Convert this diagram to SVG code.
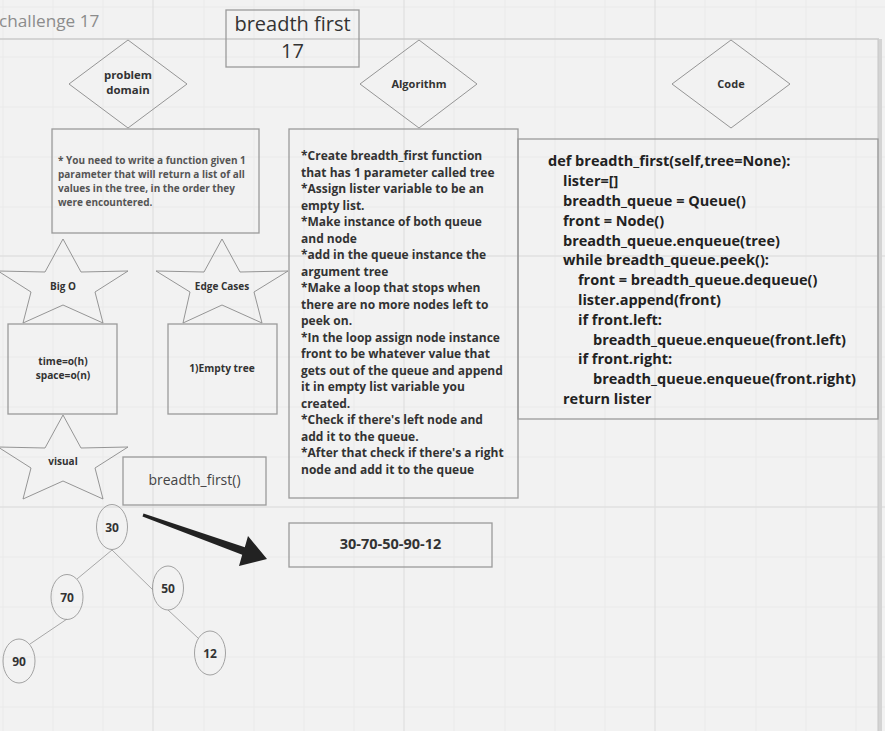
<svg xmlns="http://www.w3.org/2000/svg" width="885" height="731" viewBox="0 0 885 731">
<defs>
<style>
.minor{stroke:#eaeaea;stroke-width:1}
.major{stroke:#e0e0e0;stroke-width:1.3}
.shape{fill:none;stroke:#8a8a8a;stroke-width:0.9}
.box{fill:none;stroke:#9a9a9a;stroke-width:1.3}
.b{font-family:"Open Sans","DejaVu Sans",sans-serif;font-weight:bold;fill:#333}
.n{font-family:"Open Sans","DejaVu Sans",sans-serif;fill:#333}
.edge{stroke:#a8a8a8;stroke-width:1;fill:none}
.ell{fill:none;stroke:#999;stroke-width:0.9}
</style>
</defs>
<rect x="0" y="0" width="885" height="731" fill="#f2f2f2"/>
<g id="grid">
<g class="minor">
<line x1="3" y1="0" x2="3" y2="731"/><line x1="53" y1="0" x2="53" y2="731"/><line x1="103" y1="0" x2="103" y2="731"/><line x1="204" y1="0" x2="204" y2="731"/><line x1="254" y1="0" x2="254" y2="731"/><line x1="304" y1="0" x2="304" y2="731"/><line x1="354" y1="0" x2="354" y2="731"/><line x1="454" y1="0" x2="454" y2="731"/><line x1="505" y1="0" x2="505" y2="731"/><line x1="555" y1="0" x2="555" y2="731"/><line x1="605" y1="0" x2="605" y2="731"/><line x1="705" y1="0" x2="705" y2="731"/><line x1="756" y1="0" x2="756" y2="731"/><line x1="806" y1="0" x2="806" y2="731"/><line x1="856" y1="0" x2="856" y2="731"/>
<line x1="0" y1="7" x2="885" y2="7"/><line x1="0" y1="57" x2="885" y2="57"/><line x1="0" y1="107" x2="885" y2="107"/><line x1="0" y1="157" x2="885" y2="157"/><line x1="0" y1="207" x2="885" y2="207"/><line x1="0" y1="307" x2="885" y2="307"/><line x1="0" y1="357" x2="885" y2="357"/><line x1="0" y1="407" x2="885" y2="407"/><line x1="0" y1="457" x2="885" y2="457"/><line x1="0" y1="557" x2="885" y2="557"/><line x1="0" y1="607" x2="885" y2="607"/><line x1="0" y1="657" x2="885" y2="657"/><line x1="0" y1="707" x2="885" y2="707"/>
</g>
<g class="major">
<line x1="153" y1="0" x2="153" y2="731"/><line x1="404" y1="0" x2="404" y2="731"/><line x1="655" y1="0" x2="655" y2="731"/>
<line x1="0" y1="256" x2="885" y2="256"/><line x1="0" y1="507" x2="885" y2="507"/>
</g>
</g>
<g id="frame">
<line x1="0" y1="39" x2="879" y2="39" stroke="#cacaca" stroke-width="1.5"/>
<rect x="878" y="39" width="4" height="692" fill="#d4d4d4"/>
<line x1="878" y1="39" x2="878" y2="731" stroke="#c6c6c6" stroke-width="1"/>
<text x="-1" y="27" font-family="'Open Sans','DejaVu Sans',sans-serif" font-size="17.2" fill="#8c8c8c">challenge 17</text>
</g>
<g id="title">
<rect x="226" y="10" width="133" height="57" class="box"/>
<text x="292.5" y="31" text-anchor="middle" class="n" font-size="20">breadth first</text>
<text x="292.5" y="58" text-anchor="middle" class="n" font-size="20">17</text>
</g>
<g id="problem-domain">
<polygon points="128,40 187,84 128,128 69,84" class="shape"/>
<text x="128" y="79" text-anchor="middle" class="b" font-size="11.4">problem</text>
<text x="128" y="94" text-anchor="middle" class="b" font-size="11.4">domain</text>
</g>
<g id="problem-text">
<rect x="52" y="129" width="207" height="104" class="box"/>
<g class="b" font-size="10" style="fill:#555">
<text x="58" y="164">* You need to write a function given 1</text>
<text x="58" y="178">parameter that will return a list of all</text>
<text x="58" y="192">values in the tree, in the order they</text>
<text x="58" y="206">were encountered.</text>
</g>
</g>
<g id="algorithm">
<polygon points="419,40 477,84 419,128 360,84" class="shape"/>
<text x="419" y="88" text-anchor="middle" class="b" font-size="11">Algorithm</text>
</g>
<g id="algorithm-text">
<rect x="289" y="129" width="229" height="369" class="box"/>
<g class="b" font-size="12">
<text x="301" y="160">*Create breadth_first function</text>
<text x="301" y="176.5">that has 1 parameter called tree</text>
<text x="301" y="193">*Assign lister variable to be an</text>
<text x="301" y="209.5">empty list.</text>
<text x="301" y="226">*Make instance of both queue</text>
<text x="301" y="242.5">and node</text>
<text x="301" y="259">*add in the queue instance the</text>
<text x="301" y="275.5">argument tree</text>
<text x="301" y="292">*Make a loop that stops when</text>
<text x="301" y="308.5">there are no more nodes left to</text>
<text x="301" y="325">peek on.</text>
<text x="301" y="341.5">*In the loop assign node instance</text>
<text x="301" y="358">front to be whatever value that</text>
<text x="301" y="374.5">gets out of the queue and append</text>
<text x="301" y="391">it in empty list variable you</text>
<text x="301" y="407.5">created.</text>
<text x="301" y="424">*Check if there's left node and</text>
<text x="301" y="440.5">add it to the queue.</text>
<text x="301" y="457">*After that check if there's a right</text>
<text x="301" y="473.5">node and add it to the queue</text>
</g>
</g>
<g id="code">
<polygon points="731,40 790,84 731,128 672,84" class="shape"/>
<text x="731" y="88" text-anchor="middle" class="b" font-size="11">Code</text>
</g>
<g id="code-text">
<rect x="518" y="139" width="360" height="280" class="box"/>
<g class="b" font-size="14.5" style="fill:#222">
<text x="548" y="166">def breadth_first(self,tree=None):</text>
<text x="563" y="186">lister=[]</text>
<text x="563" y="206">breadth_queue = Queue()</text>
<text x="563" y="225.5">front = Node()</text>
<text x="563" y="245.5">breadth_queue.enqueue(tree)</text>
<text x="563" y="265">while breadth_queue.peek():</text>
<text x="578" y="285">front = breadth_queue.dequeue()</text>
<text x="578" y="305">lister.append(front)</text>
<text x="578" y="324.5">if front.left:</text>
<text x="593" y="344.5">breadth_queue.enqueue(front.left)</text>
<text x="578" y="364">if front.right:</text>
<text x="593" y="384">breadth_queue.enqueue(front.right)</text>
<text x="563" y="404">return lister</text>
</g>
</g>
<g id="big-o">
<polygon points="63,239 81,272 128,271 95,292 103,323 63,305 23,323 31,292 -2,271 45,272" class="shape"/>
<text x="63" y="290" text-anchor="middle" class="b" font-size="10">Big O</text>
</g>
<g id="big-o-box">
<rect x="8" y="324" width="109" height="90" class="box"/>
<text x="63" y="365" text-anchor="middle" class="b" font-size="10.2">time=o(h)</text>
<text x="63" y="379" text-anchor="middle" class="b" font-size="10.2">space=o(n)</text>
</g>
<g id="edge-cases">
<polygon points="222,239 240,272 288,271 254,292 262,323 222,305 183,323 190,292 156,271 204,272" class="shape"/>
<text x="222" y="290" text-anchor="middle" class="b" font-size="10">Edge Cases</text>
</g>
<g id="edge-cases-box">
<rect x="168" y="324" width="109" height="90" class="box"/>
<text x="222" y="372" text-anchor="middle" class="b" font-size="10.2">1)Empty tree</text>
</g>
<g id="visual">
<polygon points="63,415 81,448 128,447 95,468 103,499 63,481 23,499 31,468 -2,447 45,448" class="shape"/>
<text x="63" y="465" text-anchor="middle" class="b" font-size="10">visual</text>
</g>
<g id="breadth-first-call">
<rect x="123" y="457" width="143" height="48" class="box"/>
<text x="194.5" y="485" text-anchor="middle" class="n" font-size="14" style="fill:#444">breadth_first()</text>
</g>
<g id="connectors">
<line x1="112" y1="550" x2="77" y2="579" class="edge"/>
<line x1="112" y1="550" x2="153" y2="590" class="edge"/>
<line x1="67" y1="619" x2="30" y2="644" class="edge"/>
<line x1="168" y1="610" x2="198" y2="638" class="edge"/>
<polygon points="143.5,513.6 244.8,547.2 248,536 267,559 239,566 242.2,554.8 142.5,516.4" fill="#222"/>
</g>
<g id="n30"><ellipse cx="112" cy="527" rx="15.5" ry="22.5" class="ell"/><text x="112" y="531.5" text-anchor="middle" class="b" font-size="12">30</text></g>
<g id="n70"><ellipse cx="67" cy="597" rx="16" ry="22.5" class="ell"/><text x="67" y="601.5" text-anchor="middle" class="b" font-size="12">70</text></g>
<g id="n50"><ellipse cx="168" cy="588" rx="15.5" ry="22" class="ell"/><text x="168" y="592.5" text-anchor="middle" class="b" font-size="12">50</text></g>
<g id="n90"><ellipse cx="19" cy="661" rx="16" ry="22" class="ell"/><text x="19" y="665.5" text-anchor="middle" class="b" font-size="12">90</text></g>
<g id="n12"><ellipse cx="210" cy="653" rx="15.5" ry="22" class="ell"/><text x="210" y="657.5" text-anchor="middle" class="b" font-size="12">12</text></g>
<g id="result">
<rect x="289" y="523" width="203" height="44" class="box"/>
<text x="390.5" y="548.5" text-anchor="middle" class="b" font-size="14.5">30-70-50-90-12</text>
</g>
</svg>
